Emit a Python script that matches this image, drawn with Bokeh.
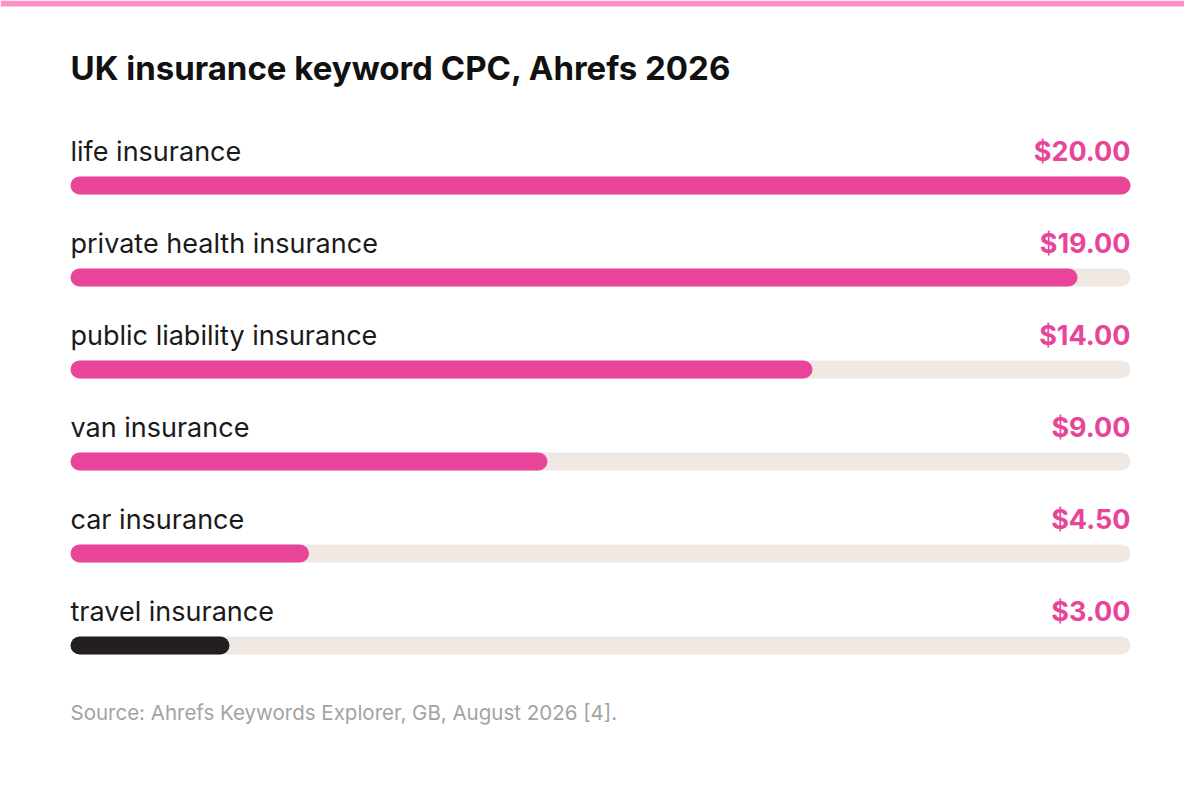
from bokeh.plotting import figure
from bokeh.models import Range1d, Label, Span
from bokeh.core.properties import value
from bokeh.embed import file_html
from bokeh.resources import INLINE

# data
keywords = ["life insurance", "private health insurance", "public liability insurance",
            "van insurance", "car insurance", "travel insurance"]
cpc = [20.0, 19.0, 14.0, 9.0, 4.5, 3.0]
value_labels = ["$20.00", "$19.00", "$14.00", "$9.00", "$4.50", "$3.00"]
scale_max = 20.0

PINK = "#e8449a"
DARK = "#231f20"
TRACK = "#f0e8e3"
FONT = "Inter"

W, H = 1184, 777
px_x = 53.0          # pixels per dollar
px_row = 92.0        # pixels per row
left_pad = 70.0
top_pad = 185.0
bar_h = 18

rows = list(range(len(keywords)))
colors = [PINK] * (len(keywords) - 1) + [DARK]
cap = (bar_h / 2) / px_x

p = figure(width=W, height=H,
           x_range=Range1d(-left_pad / px_x, (W - left_pad) / px_x),
           y_range=Range1d((H - top_pad) / px_row, -top_pad / px_row),
           output_backend="svg", toolbar_location=None, min_border=0,
           x_axis_location=None, y_axis_location=None)
p.grid.visible = False
p.outline_line_color = None
p.background_fill_color = "white"
p.border_fill_color = "white"

# background tracks
p.segment(x0=[cap] * len(rows), x1=[scale_max - cap] * len(rows), y0=rows, y1=rows,
          line_width=bar_h, line_cap="round", line_color=TRACK)
# value bars
p.segment(x0=[cap] * len(rows), x1=[v - cap for v in cpc], y0=rows, y1=rows,
          line_width=bar_h, line_cap="round", line_color=colors)

label_y = [r - 34 / px_row for r in rows]
p.text(x=[0] * len(rows), y=label_y, text=keywords,
       text_font=value(FONT), text_font_size="27px", text_color="#1a1a1a",
       text_baseline="middle", text_align="left")
p.text(x=[scale_max] * len(rows), y=label_y, text=value_labels,
       text_font=value(FONT), text_font_size="27px", text_font_style="bold",
       text_color=PINK, text_baseline="middle", text_align="right")

p.add_layout(Label(x=left_pad, y=H - 67, x_units="screen", y_units="screen",
                   text="UK insurance keyword CPC, Ahrefs 2026",
                   text_font=FONT, text_font_size="33px", text_font_style="bold",
                   text_color="#111111", text_baseline="middle"))
p.add_layout(Label(x=left_pad, y=H - 712, x_units="screen", y_units="screen",
                   text="Source: Ahrefs Keywords Explorer, GB, August 2026 [4].",
                   text_font=FONT, text_font_size="20.5px", text_color="#a3a3a3",
                   text_baseline="middle"))

# pink stripe along the top
p.add_layout(Span(location=H - 3, location_units="screen", dimension="width",
                  line_width=6, line_color="#ff8fc8"))

open("out.html", "w").write(file_html(p, INLINE))
